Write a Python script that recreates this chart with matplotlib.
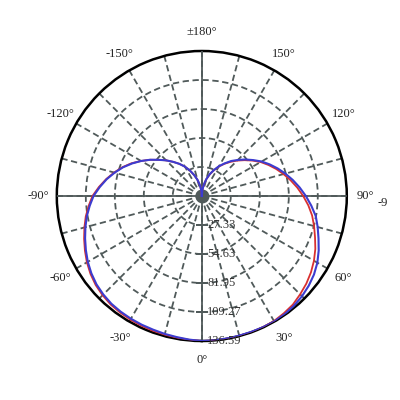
import numpy as np
import matplotlib.pyplot as plt

plt.rcParams['font.family'] = ['Liberation Serif', 'DejaVu Serif']

# luminous intensity curves, angle 0 = straight down, 5 degree steps
angle_deg = list(range(-180, 181, 5))
blue_r = [0, 5.2, 10.5, 15.8, 21, 26.5, 32, 37, 42, 47.5,
          53, 59.5, 66, 72.5, 79, 85, 91, 96.5, 102,
          106, 110, 113.5, 117, 120.5, 124, 127, 129.5, 131.2, 132.5,
          133.1, 133.5, 133.8, 134, 134.5, 135, 135.8, 136.6,
          136.5, 136.3, 136.2, 136.2, 136.4, 136.5, 136, 135, 133.5,
          131.5, 129, 125.7, 121.5, 117, 113, 109, 103.5, 98,
          92.5, 87, 81.5, 76, 70.5, 65, 59, 53.5, 48,
          43, 37.5, 32.5, 27, 22, 16.5, 11, 5.5, 0]
red_r = [0, 5.2, 10.5, 15.8, 21, 26.5, 32, 37, 42, 47.5,
         53, 59.5, 66, 73, 79.5, 85.5, 91.5, 97.3, 103,
         107, 111, 114.5, 118, 121.5, 125, 128, 130.5, 132.2, 133.5,
         134.1, 134.5, 134.8, 135, 135.2, 135.5, 136, 136.6,
         136.6, 136.5, 136.4, 136.4, 136.3, 136, 134.8, 133.5, 131,
         128.5, 125.5, 122, 118, 113.5, 109.5, 105.5, 100.7, 95.5,
         90.3, 85, 79.7, 74.5, 69.2, 64, 58.2, 52.5, 47.2,
         42, 37, 32, 26.7, 21.5, 16.2, 10.8, 5.4, 0]

r_ticks = [27.32, 54.64, 81.95, 109.27, 136.59]
r_labels = ['27.33', '54.63', '81.95', '109.27', '136.59']
theta_labels = ['0°', '30°', '60°', '90°', '120°', '150°', '±180°',
                '-150°', '-120°', '-90°', '-60°', '-30°']

grid_col = '#505a5a'

fig = plt.figure(figsize=(4, 4), dpi=100)
ax = fig.add_axes([0.142, 0.1475, 0.725, 0.725], projection='polar')
ax.set_theta_zero_location('S')
ax.set_theta_direction(1)

th = np.radians(angle_deg)
ax.plot(th, red_r, color='#d83030', lw=1.3, zorder=5)
ax.plot(th, blue_r, color='#3c3cd0', lw=1.5, zorder=6)

ax.set_ylim(0, r_ticks[-1])
ax.set_rgrids(r_ticks[:-1], labels=[])
ax.set_thetagrids(np.arange(0, 360, 15),
                  labels=[theta_labels[i // 2] if i % 2 == 0 else '' for i in range(24)])
ax.grid(True, color=grid_col, lw=1.3, ls=(0, (3.5, 2)))
for a in [0, 90, 180, 270]:
    ax.axvline(np.radians(a), color=grid_col, lw=1.3, zorder=3)
ax.tick_params(axis='x', pad=3, labelsize=9, colors='#222222')
ax.spines['polar'].set_color('black')
ax.spines['polar'].set_linewidth(1.8)

# centre hub
ax.plot([0], [0], marker='o', ms=9, color=grid_col, zorder=4)

# radial scale on the 0 degree spoke
ax.plot(np.zeros(len(r_ticks)), r_ticks, ls='none', marker='_', ms=9,
        mew=1.2, color=grid_col, zorder=4)
for r, lab in zip(r_ticks, r_labels):
    ax.annotate(lab, (0, r), xytext=(4, 0), textcoords='offset points',
                ha='left', va='center', fontsize=9, color='#333333', zorder=7)

fig.text(0.945, 0.4925, '-9', fontsize=9, color='#222222', ha='left', va='center')

fig.savefig('out.png', dpi=100)
